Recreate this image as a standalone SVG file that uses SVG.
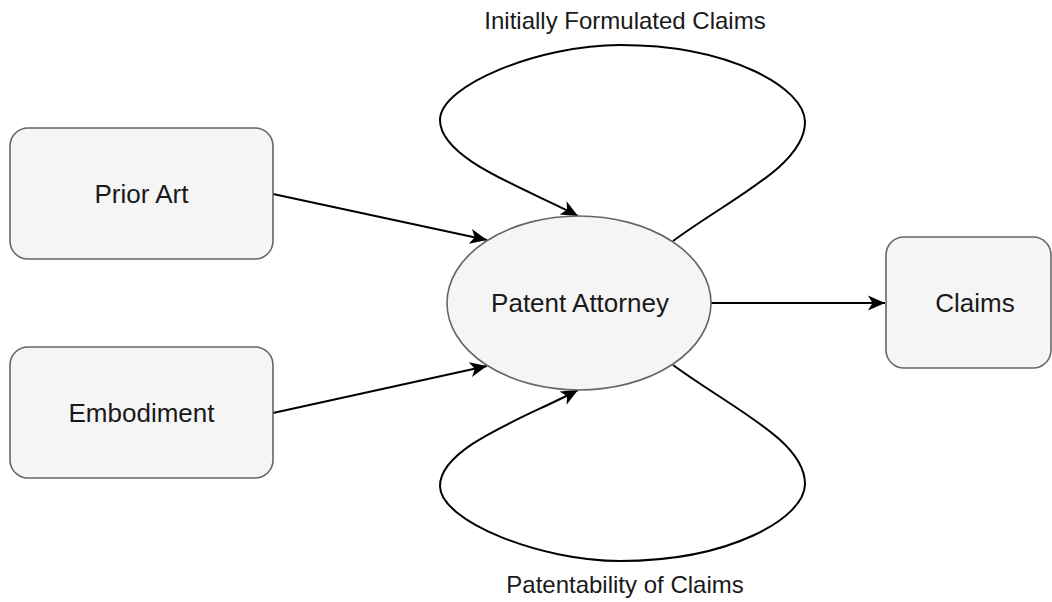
<svg xmlns="http://www.w3.org/2000/svg" width="1052" height="602" viewBox="0 0 1052 602">
  <defs>
    <style>
      .node { fill: #f5f5f5; stroke: #666666; stroke-width: 1.6; }
      .label { font-family: "Liberation Sans", Arial, sans-serif; fill: #1a1a1a; text-anchor: middle; }
      .node-text { font-size: 26px; }
      .edge-text { font-size: 24px; }
      .edge { fill: none; stroke: #000000; stroke-width: 2; }
    </style>
    <marker id="arrow" markerUnits="userSpaceOnUse" markerWidth="20" markerHeight="20" refX="0" refY="0" viewBox="-18 -10 20 20" orient="auto">
      <path d="M -17,-7.5 L 0,0 L -17,7.5 L -12.5,0 Z" fill="#000000"/>
    </marker>
  </defs>

  <rect width="1052" height="602" fill="#ffffff"/>

  <!-- connectors -->
  <g id="connectors">
    <path class="edge" d="M 273,194 L 487,240" marker-end="url(#arrow)"/>
    <path class="edge" d="M 273,413 L 487,366" marker-end="url(#arrow)"/>
    <path class="edge" d="M 711,303 L 885,303" marker-end="url(#arrow)"/>
    <!-- self-loop above the attorney node -->
    <path class="edge" d="M 673,241 C 733,197 805,165 805,122 C 805,88 730,45 620,45 C 540,45 440,85 440,120 C 440,160 530,190 578,216" marker-end="url(#arrow)"/>
    <!-- self-loop below the attorney node -->
    <path class="edge" d="M 673,365 C 733,409 805,441 805,484 C 805,518 730,561 620,561 C 540,561 440,521 440,486 C 440,446 530,416 578,390" marker-end="url(#arrow)"/>
  </g>

  <g id="edge-labels">
    <text class="label edge-text" x="625" y="29">Initially Formulated Claims</text>
    <text class="label edge-text" x="625" y="593">Patentability of Claims</text>
  </g>

  <g id="prior-art">
    <rect class="node" x="10" y="128" width="263" height="131" rx="18" ry="18"/>
    <text class="label node-text" x="141.5" y="203">Prior Art</text>
  </g>

  <g id="embodiment">
    <rect class="node" x="10" y="347" width="263" height="131" rx="18" ry="18"/>
    <text class="label node-text" x="141.5" y="422">Embodiment</text>
  </g>

  <g id="patent-attorney">
    <ellipse class="node" cx="579" cy="303" rx="132" ry="87"/>
    <text class="label node-text" x="580" y="312">Patent Attorney</text>
  </g>

  <g id="claims">
    <rect class="node" x="886" y="237" width="165" height="131" rx="18" ry="18"/>
    <text class="label node-text" x="975" y="312">Claims</text>
  </g>
</svg>
